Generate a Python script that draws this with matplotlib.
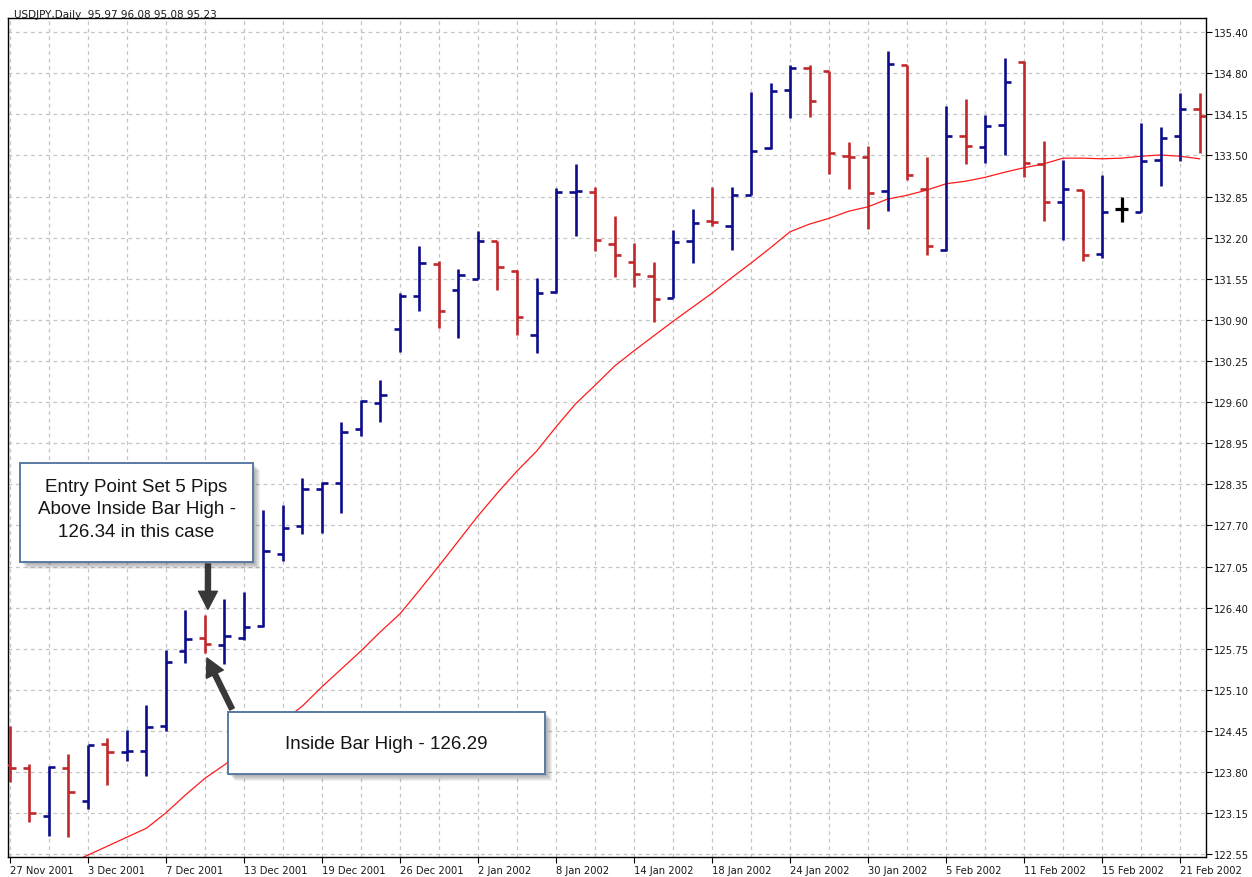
import matplotlib
matplotlib.use("Agg")
import matplotlib.pyplot as plt
from matplotlib.patches import Rectangle
import numpy as np

# ---------------- data ----------------
dates = ["27 Nov 2001", "28 Nov 2001", "29 Nov 2001", "30 Nov 2001", "3 Dec 2001", "4 Dec 2001",
         "5 Dec 2001", "6 Dec 2001", "7 Dec 2001", "10 Dec 2001", "11 Dec 2001", "12 Dec 2001",
         "13 Dec 2001", "14 Dec 2001", "17 Dec 2001", "18 Dec 2001", "19 Dec 2001", "20 Dec 2001",
         "21 Dec 2001", "24 Dec 2001", "26 Dec 2001", "27 Dec 2001", "28 Dec 2001", "31 Dec 2001",
         "2 Jan 2002", "3 Jan 2002", "4 Jan 2002", "7 Jan 2002", "8 Jan 2002", "9 Jan 2002",
         "10 Jan 2002", "11 Jan 2002", "14 Jan 2002", "15 Jan 2002", "16 Jan 2002", "17 Jan 2002",
         "18 Jan 2002", "21 Jan 2002", "22 Jan 2002", "23 Jan 2002", "24 Jan 2002", "25 Jan 2002",
         "28 Jan 2002", "29 Jan 2002", "30 Jan 2002", "31 Jan 2002", "1 Feb 2002", "4 Feb 2002",
         "5 Feb 2002", "6 Feb 2002", "7 Feb 2002", "8 Feb 2002", "11 Feb 2002", "12 Feb 2002",
         "13 Feb 2002", "14 Feb 2002", "15 Feb 2002", "18 Feb 2002", "19 Feb 2002", "20 Feb 2002",
         "21 Feb 2002", "22 Feb 2002"]

opens = [123.95, 123.90, 123.15, 123.90, 123.38, 124.28, 124.15, 124.17, 124.56, 125.73,
         125.93, 125.82, 125.93, 126.12, 127.24, 127.68, 128.26, 128.35, 129.20, 129.60,
         130.76, 131.27, 131.77, 131.37, 131.54, 132.13, 131.67, 130.67, 131.34, 132.90,
         132.90, 132.09, 131.80, 131.59, 131.24, 132.13, 132.45, 132.37, 132.85, 133.59,
         134.49, 134.84, 134.79, 133.47, 133.45, 132.92, 134.88, 132.95, 131.99, 133.77,
         133.60, 133.95, 134.93, 133.34, 132.74, 132.93, 131.93, 132.63, 132.59, 133.40,
         133.77, 134.20]
highs = [124.56, 123.96, 123.93, 124.12, 124.26, 124.37, 124.49, 124.88, 125.74, 126.37,
         126.29, 126.54, 126.65, 127.93, 128.01, 128.43, 128.37, 129.30, 129.65, 129.96,
         131.32, 132.06, 131.82, 131.70, 132.29, 132.13, 131.68, 131.56, 132.96, 133.34,
         132.98, 132.52, 132.10, 131.80, 132.31, 132.63, 132.98, 132.98, 134.46, 134.60,
         134.88, 134.88, 134.79, 133.68, 133.62, 135.10, 134.88, 133.45, 134.24, 134.35,
         134.10, 134.99, 134.95, 133.70, 133.40, 132.93, 133.17, 132.82, 133.98, 133.92,
         134.45, 134.45]
lows = [123.68, 123.06, 122.84, 122.82, 123.26, 123.63, 124.01, 123.77, 124.48, 125.54,
        125.70, 125.53, 125.90, 126.10, 127.13, 127.56, 127.57, 127.88, 129.09, 129.31,
        130.40, 131.04, 130.77, 130.62, 131.54, 131.37, 130.67, 130.38, 131.33, 132.21,
        131.98, 131.57, 131.42, 130.87, 131.24, 131.79, 132.37, 131.99, 132.85, 133.57,
        134.06, 134.07, 133.18, 132.95, 132.32, 132.60, 133.09, 131.92, 131.98, 133.34,
        133.35, 133.48, 133.13, 132.45, 132.15, 131.82, 131.87, 132.43, 132.59, 132.99,
        133.38, 133.51]
closes = [123.90, 123.20, 123.92, 123.53, 124.26, 124.15, 124.16, 124.54, 125.56, 125.92,
          125.84, 125.96, 126.10, 127.29, 127.65, 128.26, 128.35, 129.15, 129.63, 129.73,
          131.27, 131.79, 131.04, 131.60, 132.13, 131.73, 130.95, 131.32, 132.90, 132.92,
          132.15, 131.92, 131.62, 131.23, 132.12, 132.42, 132.43, 132.85, 133.54, 134.48,
          134.84, 134.32, 133.51, 133.45, 132.88, 134.90, 133.17, 132.06, 133.77, 133.62,
          133.93, 134.62, 133.35, 132.74, 132.95, 131.92, 132.59, 132.63, 133.38, 133.74,
          134.20, 134.09]
moving_avg = [None, None, None, 122.40, 122.54, 122.68, 122.82, 122.96, 123.20, 123.48,
              123.74, 123.95, 124.17, 124.40, 124.63, 124.87, 125.17, 125.45, 125.73, 126.03,
              126.31, 126.68, 127.06, 127.45, 127.84, 128.20, 128.54, 128.85, 129.23, 129.59,
              129.88, 130.18, 130.42, 130.65, 130.88, 131.10, 131.32, 131.56, 131.79, 132.03,
              132.28, 132.40, 132.49, 132.60, 132.67, 132.79, 132.85, 132.93, 133.03, 133.07,
              133.13, 133.21, 133.28, 133.34, 133.43, 133.43, 133.42, 133.43, 133.46, 133.48,
              133.46, 133.42]

ytick_labels = ["122.55", "123.15", "123.80", "124.45", "125.10", "125.75", "126.40",
                "127.05", "127.70", "128.35", "128.95", "129.60", "130.25", "130.90",
                "131.55", "132.20", "132.85", "133.50", "134.15", "134.80", "135.40"]

header = "USDJPY,Daily  95.97 96.08 95.08 95.23"
note_entry = "Entry Point Set 5 Pips\nAbove Inside Bar High -\n126.34 in this case"
note_inside = "Inside Bar High - 126.29"
inside_idx = 10

# ---------------- styling ----------------
UP = "#0c0c8c"
DOWN = "#c0282c"
DOJI = "#000000"
MA_COL = "#ff1a1a"
GRID = "#c4c4c4"
W, H = 1252, 878

fig = plt.figure(figsize=(W / 100, H / 100), dpi=100)
fig.patch.set_facecolor("white")
ax = fig.add_axes([8 / W, 20 / H, (1206 - 8) / W, (858 - 19) / H])

n = len(opens)
x = np.arange(n)
colors = []
widths = []
for o, c in zip(opens, closes):
    colors.append(UP if c > o else (DOWN if c < o else DOJI))
    widths.append(1.9 if c != o else 2.3)

ax.vlines(x, lows, highs, colors=colors, linewidth=widths, zorder=3)
ax.hlines(opens, x - 0.33, x, colors=colors, linewidth=widths, zorder=3)
ax.hlines(closes, x, x + 0.33, colors=colors, linewidth=widths, zorder=3)

ma = np.array([np.nan if v is None else v for v in moving_avg], dtype=float)
ax.plot(x, ma, color=MA_COL, linewidth=0.9, zorder=2)

# axes limits & ticks
ax.set_xlim(-0.10, 61.33)
ax.set_ylim(122.51, 135.62)
ypos = np.linspace(122.55, 135.40, len(ytick_labels))
ax.yaxis.tick_right()
ax.set_yticks(ypos)
ax.set_yticklabels(ytick_labels, fontsize=7.2, color="#1a1a1a")
lab_idx = list(range(0, n, 4))
ax.set_xticks(lab_idx)
ax.set_xticklabels([dates[i] for i in lab_idx], fontsize=7.2, ha="left", color="#1a1a1a")
ax.tick_params(axis="both", direction="out", length=4, width=0.8, pad=2)

# grid
for yy in ypos:
    ax.axhline(yy, color=GRID, linestyle=(0, (3, 3)), linewidth=0.9, zorder=1)
for xx in range(0, n, 2):
    ax.axvline(xx, color=GRID, linestyle=(0, (3, 3)), linewidth=0.9, zorder=1)

for s in ax.spines.values():
    s.set_color("black")
    s.set_linewidth(1.0)

# header
fig.text(14 / W, 1 - 15 / H, header, fontsize=7.5, color="#1a1a1a", va="center", ha="left")


def fpx(xp, yp):
    return xp / W, 1 - yp / H


def note_box(x0, y0, x1, y1, text, ty):
    # soft shadow
    for k in range(1, 8):
        fig.add_artist(Rectangle(fpx(x0 + k, y1 + k), (x1 - x0) / W, (y1 - y0) / H,
                                 transform=fig.transFigure, facecolor="#303030",
                                 edgecolor="none", alpha=0.07, zorder=8))
    fig.add_artist(Rectangle(fpx(x0, y1), (x1 - x0) / W, (y1 - y0) / H,
                             transform=fig.transFigure, facecolor="white",
                             edgecolor="#5a7aa2", linewidth=1.4, zorder=9))
    cx, cy = fpx((x0 + x1) / 2, ty)
    fig.text(cx, cy, text, ha="center", va="center", fontsize=13.5,
             family="Liberation Sans", color="#151515", linespacing=1.4, zorder=10)


note_box(20, 464, 253, 563, note_entry, 510)
note_box(228, 713, 545, 775, note_inside, 745)

arrow_kw = dict(arrowstyle="simple,head_length=1.3,head_width=1.35,tail_width=0.36",
                mutation_scale=10, color="#383838", shrinkA=0, shrinkB=0)
ax.annotate("", xy=(inside_idx + 0.15, highs[inside_idx] + 0.09), xycoords="data",
            xytext=(208, H - 565), textcoords="figure pixels",
            arrowprops=arrow_kw, zorder=11, annotation_clip=False)
ax.annotate("", xy=(inside_idx + 0.1, lows[inside_idx] - 0.08), xycoords="data",
            xytext=(232, H - 710), textcoords="figure pixels",
            arrowprops=arrow_kw, zorder=11, annotation_clip=False)

fig.savefig("out.png", dpi=100, facecolor="white")
